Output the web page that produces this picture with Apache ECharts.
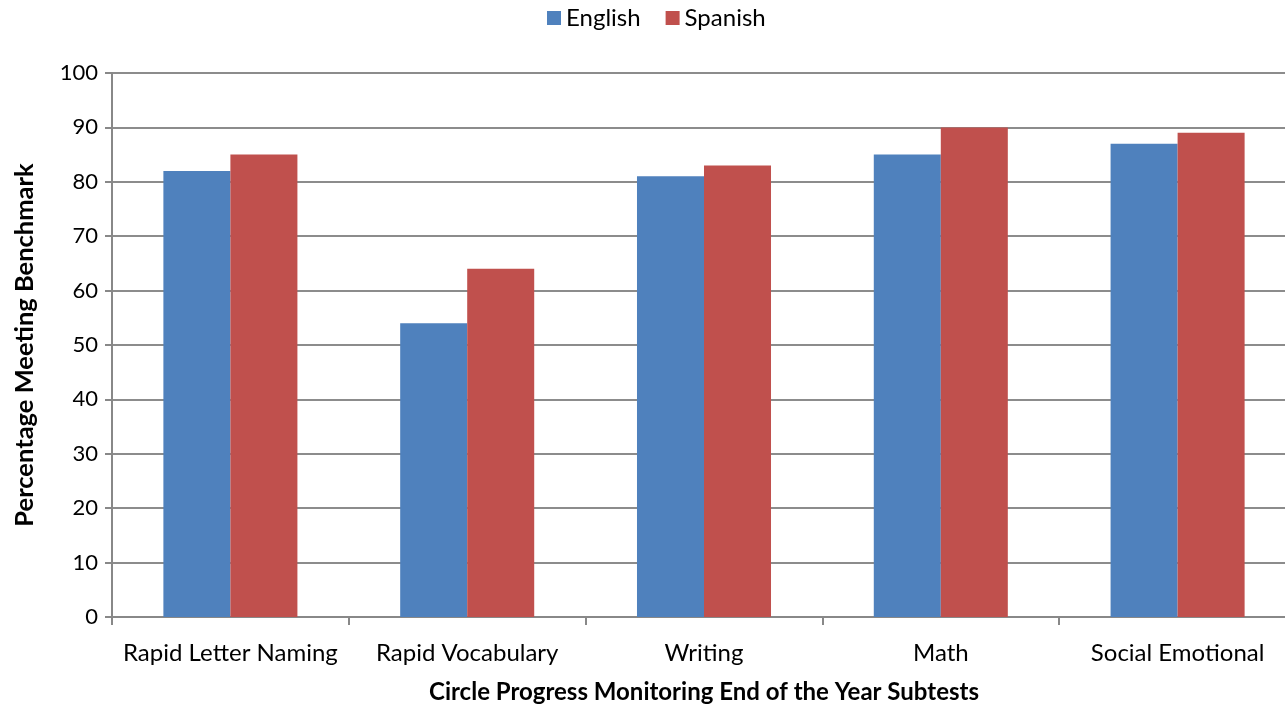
<!DOCTYPE html>
<html><head><meta charset="utf-8">
<script src="https://cdn.jsdelivr.net/npm/echarts@6/dist/echarts.min.js"></script>
<style>html,body{margin:0;padding:0;background:#fff}#c{width:1285px;height:710px}</style>
</head><body><div id="c"></div>
<script>
const categories = ["Rapid Letter Naming","Rapid Vocabulary","Writing","Math","Social Emotional"];
const english = [82,54,81,85,87];
const spanish = [85,64,83,90,89];
const yTicks = [0,10,20,30,40,50,60,70,80,90,100];
const FONT = "Lato";
const chart = echarts.init(document.getElementById('c'));
chart.setOption({
  animation:false,
  textStyle:{fontFamily:FONT},
  legend:{top:1,left:542,itemWidth:14,itemHeight:14,itemGap:25,icon:'rect',
    textStyle:{fontFamily:FONT,fontSize:24,color:'#000'},data:['English','Spanish']},
  grid:{left:112,width:1184,top:73,bottom:93,containLabel:false,outerBoundsMode:'none'},
  xAxis:{type:'category',data:categories,
    axisLine:{lineStyle:{color:'#888',width:2}},
    axisTick:{show:true,length:8,alignWithLabel:false,lineStyle:{color:'#888',width:2}},
    axisLabel:{fontFamily:FONT,fontSize:24,color:'#000',margin:24,interval:0},
    name:'Circle Progress Monitoring End of the Year Subtests',nameLocation:'middle',nameGap:63,
    nameTextStyle:{fontFamily:FONT,fontSize:24,fontWeight:'bold',color:'#000'}},
  yAxis:{type:'value',min:0,max:100,interval:10,
    axisLine:{show:true,lineStyle:{color:'#888',width:2}},
    axisTick:{show:true,length:7,lineStyle:{color:'#888',width:2}},
    splitLine:{lineStyle:{color:'#8c8c8c',width:2}},
    axisLabel:{fontFamily:FONT,fontSize:22,color:'#000',margin:14,
      formatter:v=>yTicks.includes(v)?String(v):''},
    name:'Percentage Meeting Benchmark',nameLocation:'middle',nameGap:74,nameRotate:90,
    nameTextStyle:{fontFamily:FONT,fontSize:25.5,fontWeight:'bold',color:'#000'}},
  series:[
    {name:'English',type:'bar',data:english,barGap:'0%',barCategoryGap:'43.4%',
     itemStyle:{color:'#4F81BD'}},
    {name:'Spanish',type:'bar',data:spanish,barGap:'0%',barCategoryGap:'43.4%',
     itemStyle:{color:'#C0504D'}}
  ]
});
</script></body></html>
